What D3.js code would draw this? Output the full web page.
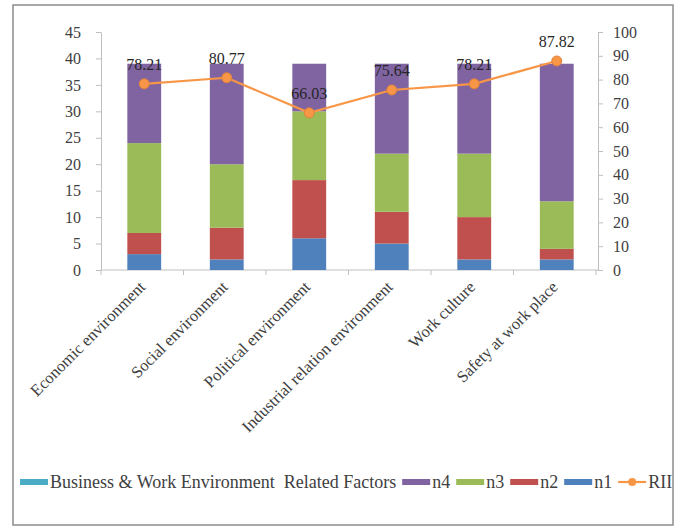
<!DOCTYPE html>
<html>
<head>
<meta charset="utf-8">
<script src="https://cdn.jsdelivr.net/npm/d3@7"></script>
<style>
  html, body { margin: 0; padding: 0; background: #fff; }
  svg { display: block; }
  svg text { font-family: "Liberation Serif", "Times New Roman", serif; }
  .axis path, .axis line { stroke: #bfbfbf; }
  .axis text { fill: #404040; font-size: 16px; font-family: "Liberation Serif", "Times New Roman", serif; }
</style>
</head>
<body>
<svg id="chart" width="683" height="530"></svg>
<script>
const categories = [
  "Economic environment",
  "Social environment",
  "Political environment",
  "Industrial relation environment",
  "Work culture",
  "Safety at work place"
];
const n1 = [3, 2, 6, 5, 2, 2];
const n2 = [4, 6, 11, 6, 8, 2];
const n3 = [17, 12, 13, 11, 12, 9];
const n4 = [15, 19, 9, 17, 17, 26];
const rii = [78.21, 80.77, 66.03, 75.64, 78.21, 87.82];
const leftTicks = [0, 5, 10, 15, 20, 25, 30, 35, 40, 45];
const rightTicks = [0, 10, 20, 30, 40, 50, 60, 70, 80, 90, 100];
const legendNames = ["Business & Work Environment  Related Factors", "n4", "n3", "n2", "n1", "RII"];

const colors = {
  group: "#4bacc6",
  n1: "#4f81bd",
  n2: "#c0504d",
  n3: "#9bbb59",
  n4: "#8064a2",
  rii: "#f79646"
};

const rows = categories.map((c, i) => ({ category: c, n1: n1[i], n2: n2[i], n3: n3[i], n4: n4[i], rii: rii[i] }));

const svg = d3.select("#chart");
const plot = { left: 103, right: 598, top: 32, bottom: 270 };

svg.append("rect")
  .attr("x", 13).attr("y", 5)
  .attr("width", 660).attr("height", 520)
  .attr("fill", "#fff")
  .attr("stroke", "#8c8c8c")
  .attr("stroke-width", 1.5);

const x = d3.scaleBand()
  .domain(categories)
  .range([plot.left, plot.right])
  .paddingInner(0.59)
  .paddingOuter(0.295);

const yLeft = d3.scaleLinear().domain([0, 45]).range([plot.bottom, plot.top]);
const yRight = d3.scaleLinear().domain([0, 100]).range([plot.bottom, plot.top]);

// axes
svg.append("g")
  .attr("class", "axis")
  .attr("transform", `translate(${plot.left - 2},0)`)
  .call(d3.axisLeft(yLeft).tickValues(leftTicks).tickSize(5).tickPadding(15).tickSizeOuter(0));

svg.append("g")
  .attr("class", "axis")
  .attr("transform", `translate(${plot.right},0)`)
  .call(d3.axisRight(yRight).tickValues(rightTicks).tickSize(5).tickPadding(10).tickSizeOuter(0));

const xAxis = svg.append("g")
  .attr("class", "axis")
  .attr("transform", `translate(0,${plot.bottom})`);
xAxis.append("line")
  .attr("x1", plot.left - 2).attr("x2", plot.right)
  .attr("stroke", "#bfbfbf");
xAxis.selectAll("line.tick")
  .data(d3.range(categories.length + 1))
  .join("line")
  .attr("class", "tick")
  .attr("x1", (i) => plot.left - 2 + i * x.step())
  .attr("x2", (i) => plot.left - 2 + i * x.step())
  .attr("y1", 0).attr("y2", 5)
  .attr("stroke", "#bfbfbf");
xAxis.selectAll("text")
  .data(categories)
  .join("text")
  .attr("transform", (d) => `translate(${x(d) + x.bandwidth() / 2 + 2},${18}) rotate(-45)`)
  .attr("text-anchor", "end")
  .attr("fill", "#404040")
  .style("font-size", "16.5px")
  .text((d) => d);

// stacked bars
const stack = d3.stack().keys(["n1", "n2", "n3", "n4"]);
const layers = stack(rows);

svg.append("g")
  .selectAll("g")
  .data(layers)
  .join("g")
  .attr("fill", (d) => colors[d.key])
  .selectAll("rect")
  .data((d) => d)
  .join("rect")
  .attr("x", (d) => x(d.data.category))
  .attr("y", (d) => yLeft(d[1]))
  .attr("width", x.bandwidth())
  .attr("height", (d) => yLeft(d[0]) - yLeft(d[1]));

// RII line
const line = d3.line()
  .x((d) => x(d.category) + x.bandwidth() / 2)
  .y((d) => yRight(d.rii));

svg.append("path")
  .datum(rows)
  .attr("fill", "none")
  .attr("stroke", colors.rii)
  .attr("stroke-width", 2.2)
  .attr("d", line);

svg.append("g")
  .selectAll("circle")
  .data(rows)
  .join("circle")
  .attr("cx", (d) => x(d.category) + x.bandwidth() / 2)
  .attr("cy", (d) => yRight(d.rii))
  .attr("r", 5)
  .attr("fill", colors.rii)
  .attr("stroke", "#e0823a")
  .attr("stroke-width", 1);

svg.append("g")
  .selectAll("text")
  .data(rows)
  .join("text")
  .attr("x", (d) => x(d.category) + x.bandwidth() / 2)
  .attr("y", (d) => yRight(d.rii) - 14)
  .attr("text-anchor", "middle")
  .attr("fill", "#262626")
  .style("font-size", "16px")
  .text((d) => d.rii.toFixed(2));

// legend
const legendKeys = ["group", "n4", "n3", "n2", "n1", "rii"];
const legend = svg.append("g").attr("transform", "translate(20,482)");
let cursor = 0;
legendKeys.forEach((key, i) => {
  const item = legend.append("g").attr("transform", `translate(${cursor},0)`);
  if (key === "rii") {
    item.append("line")
      .attr("x1", 0).attr("x2", 28)
      .attr("stroke", colors.rii).attr("stroke-width", 2.2);
    item.append("circle")
      .attr("cx", 14).attr("r", 4)
      .attr("fill", colors.rii);
  } else {
    item.append("rect")
      .attr("x", 0).attr("y", -3)
      .attr("width", 28).attr("height", 6)
      .attr("fill", colors[key]);
  }
  const label = item.append("text")
    .attr("x", 30)
    .attr("dy", "0.35em")
    .attr("fill", "#404040")
    .style("font-size", "18px")
    .style("white-space", "pre")
    .text(legendNames[i]);
  cursor += 30 + label.node().getComputedTextLength() + 6;
});
</script>
</body>
</html>
